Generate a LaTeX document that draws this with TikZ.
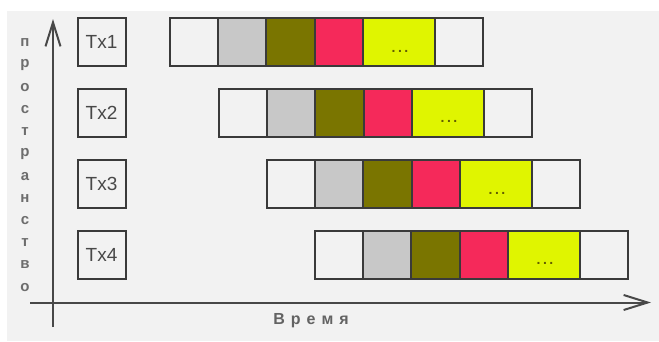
\documentclass[tikz,border=0pt]{standalone}
\usepackage{fontspec}
\setmainfont{Liberation Sans}
\usetikzlibrary{arrows.meta}
\definecolor{bg}{HTML}{F2F2F2}
\definecolor{cgray}{HTML}{C8C8C8}
\definecolor{colive}{HTML}{7A7500}
\definecolor{cred}{HTML}{F5295A}
\definecolor{cyel}{HTML}{E0F500}
\definecolor{edge}{HTML}{3A3A3A}
\definecolor{txt}{HTML}{484848}
\tikzset{
  cellbox/.style={draw=edge, line width=2pt, minimum height=48pt, inner sep=0pt, outer sep=0pt, anchor=west},
  txbox/.style={draw=edge, line width=2pt, minimum width=48pt, minimum height=48pt, inner sep=0pt, font=\fontsize{19}{19}\selectfont, text=txt},
  axis/.style={draw=txt, line width=2pt, -{Straight Barb[length=24pt,width=15pt,line width=2pt]}},
  vlet/.style={font=\fontsize{15}{15}\bfseries\selectfont, text=txt!80, inner sep=0pt},
  dotsl/.style={font=\fontsize{14}{14}\bfseries\selectfont, text=colive!80!black, inner sep=0pt}
}
\newcommand{\txrow}[3]{% name, x0, ycenter
  \node[cellbox, fill=bg, minimum width=48.2pt] (#1a) at (#2,#3) {};
  \node[cellbox, fill=cgray, minimum width=48.2pt] (#1b) at (#1a.east) {};
  \node[cellbox, fill=colive, minimum width=48.2pt] (#1c) at (#1b.east) {};
  \node[cellbox, fill=cred, minimum width=48.2pt] (#1d) at (#1c.east) {};
  \node[cellbox, fill=cyel, minimum width=72.3pt] (#1e) at (#1d.east) {};
  \node[cellbox, fill=bg, minimum width=48.2pt] (#1f) at (#1e.east) {};
  \node[dotsl] (#1dots) at ([yshift=-9pt,xshift=1pt]#1e.center) {.\hspace{2.5pt}.\hspace{2.5pt}.};
}
\begin{document}
\begin{tikzpicture}[x=1pt,y=-1pt]
\useasboundingbox (0,0) rectangle (659,341);
\fill[bg] (7,11) rectangle (659,341);
% axes
\coordinate (ybot) at (53,327);
\coordinate (ytop) at (53,19);
\coordinate (xleft) at (30,302.5);
\coordinate (xright) at (651,302.5);
\draw[axis] (ybot) -- (ytop);
\draw[axis] (xleft) -- (xright);
% Tx boxes
\node[txbox] (tx1) at (101.5,42) {Tx1};
\node[txbox] (tx2) at (101.5,112.5) {Tx2};
\node[txbox] (tx3) at (101.5,184) {Tx3};
\node[txbox] (tx4) at (101.5,254.5) {Tx4};
% rows
\txrow{r1}{170}{42}
\txrow{r2}{219}{112.5}
\txrow{r3}{267}{184}
\txrow{r4}{315}{254.5}
% labels
\foreach \l [count=\i from 0] in {п,р,о,с,т,р,а,н,с,т,в,о}
  \node[vlet] (v\i) at (25,43+22.2*\i) {\l};
\node[font=\fontsize{16}{16}\bfseries\selectfont, text=txt!85, inner sep=0pt] (time) at (311,321) {В\hspace{6pt}р\hspace{6pt}е\hspace{6pt}м\hspace{6pt}я};
\end{tikzpicture}
\end{document}
